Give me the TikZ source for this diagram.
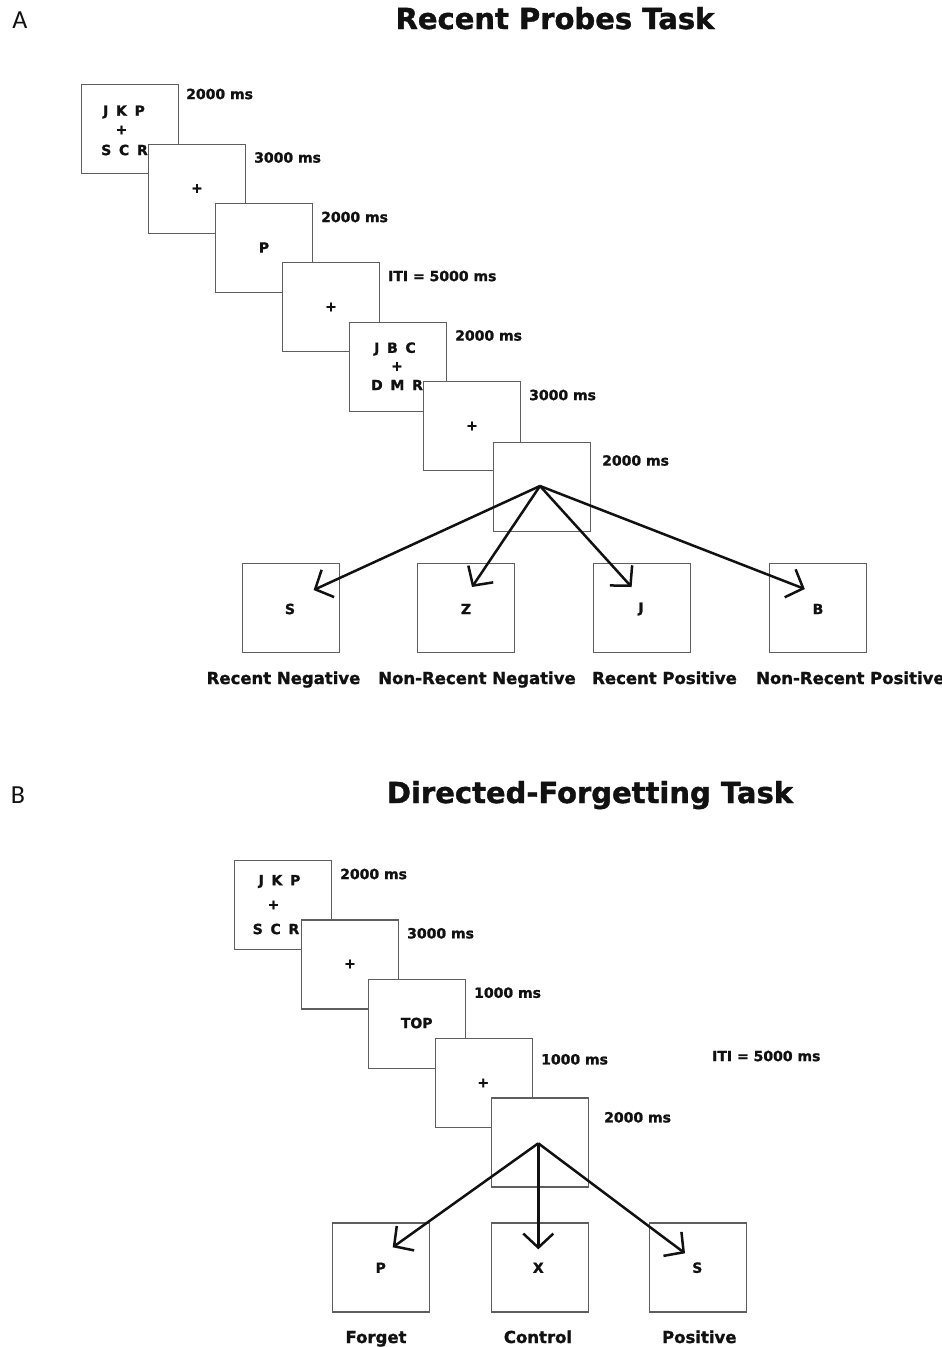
\documentclass[tikz,border=0pt]{standalone}
\usepackage{fontspec}
\setmainfont{DejaVu Sans}[BoldFeatures={FakeBold=1.3}]
\newfontfamily\lightfont{Carlito}
\usetikzlibrary{arrows.meta}
\definecolor{boxgray}{HTML}{5E5E5E}
\definecolor{ink}{HTML}{111111}
\newcommand{\gp}{\hspace{0.55em}}
\tikzset{
  box/.style={draw=boxgray, line width=1.2pt, fill=white, minimum width=97pt, minimum height=89pt, inner sep=0pt, anchor=north west},
  lbl/.style={font=\bfseries\fontsize{14}{16}\selectfont, inner sep=0pt, text=ink},
  tm/.style={lbl, anchor=west},
  cond/.style={font=\bfseries\fontsize{16.5}{18}\selectfont, inner sep=0pt, anchor=base, text=ink},
  ttl/.style={font=\bfseries\fontsize{29}{32}\selectfont, inner sep=0pt, anchor=base, text=ink},
  panel/.style={font=\lightfont\fontsize{26}{28}\selectfont, inner sep=0pt, text=ink},
  arr/.style={line width=2.5pt, draw=ink, -{Straight Barb[length=14pt,width=30pt]}}
}
\begin{document}
\begin{tikzpicture}[x=1pt,y=-1pt]
\useasboundingbox[fill=white] (0,0) rectangle (942,1347);

% ---------------- Panel A ----------------
\node[panel] (pA) at (20,20) {A};
\node[ttl] (tA) at (555,29) {Recent Probes Task};

\node[box] (a1) at (81,84) {};
\node[lbl] (a1t1) at (124,112) {J\gp K\gp P};
\node[lbl] (a1t2) at (121.5,130) {+};
\node[lbl] (a1t3) at (124.5,150) {S\gp C\gp R};
\node[tm] (a1m) at (186,94) {2000 ms};

\node[box] (a2) at (148,143.5) {};
\node[lbl] (a2t) at (197,188.5) {+};
\node[tm] (a2m) at (254,157.5) {3000 ms};

\node[box] (a3) at (215,203) {};
\node[lbl] (a3t) at (264,247.5) {P};
\node[tm] (a3m) at (321,217) {2000 ms};

\node[box] (a4) at (282,262) {};
\node[lbl] (a4t) at (331,307) {+};
\node[tm] (a4m) at (388,276) {ITI = 5000 ms};

\node[box] (a5) at (348.5,321.5) {};
\node[lbl] (a5t1) at (395,349) {J\gp B\gp C};
\node[lbl] (a5t2) at (397,366.5) {+};
\node[lbl] (a5t3) at (397,385) {D\gp M\gp R};
\node[tm] (a5m) at (455,335.5) {2000 ms};

\node[box] (a6) at (423,381) {};
\node[lbl] (a6t) at (472,426) {+};
\node[tm] (a6m) at (529,395) {3000 ms};

\node[box] (a7) at (493,442) {};
\node[tm] (a7m) at (602,460.5) {2000 ms};

\node[box] (r1) at (241.5,563) {};
\node[box] (r2) at (417,563) {};
\node[box] (r3) at (593,563) {};
\node[box] (r4) at (769,563) {};
\node[lbl] (r1t) at (290,609) {S};
\node[lbl] (r2t) at (466,609) {Z};
\node[lbl] (r3t) at (641,609) {J};
\node[lbl] (r4t) at (818,609) {B};

\coordinate (apA) at (540,486);
\coordinate (r1e) at (313.6,590);
\coordinate (r2e) at (472,587);
\coordinate (r3e) at (631.6,587);
\coordinate (r4e) at (804.8,589);
\draw[arr] (apA) -- (r1e);
\draw[arr] (apA) -- (r2e);
\draw[arr] (apA) -- (r3e);
\draw[arr] (apA) -- (r4e);

\node[cond] (r1l) at (283.5,684) {Recent Negative};
\node[cond] (r2l) at (477,684) {Non-Recent Negative};
\node[cond] (r3l) at (664.5,684) {Recent Positive};
\node[cond, anchor=base west] (r4l) at (756,684) {Non-Recent Positive};

% ---------------- Panel B ----------------
\node[panel] (pB) at (18,795) {B};
\node[ttl] (tB) at (590,803) {Directed-Forgetting Task};

\node[box] (b1) at (234,860) {};
\node[lbl] (b1t1) at (279.5,881.5) {J\gp K\gp P};
\node[lbl] (b1t2) at (273.5,905) {+};
\node[lbl] (b1t3) at (276,929) {S\gp C\gp R};
\node[tm] (b1m) at (340,874) {2000 ms};

\node[box] (b2) at (300.7,919.3) {};
\node[lbl] (b2t) at (350,964) {+};
\node[tm] (b2m) at (407,933.3) {3000 ms};

\node[box] (b3) at (367.7,978.7) {};
\node[lbl] (b3t) at (416.7,1023) {TOP};
\node[tm] (b3m) at (474,992.7) {1000 ms};

\node[box] (b4) at (434.7,1038) {};
\node[lbl] (b4t) at (483.3,1083) {+};
\node[tm] (b4m) at (541,1059.3) {1000 ms};

\node[box] (b5) at (490.5,1097.3) {};
\node[tm] (b5m) at (604,1117.3) {2000 ms};
\node[tm] (iti) at (712,1056) {ITI = 5000 ms};

\node[box] (s1) at (332,1222.3) {};
\node[box] (s2) at (490.7,1222.3) {};
\node[box] (s3) at (648.7,1222.3) {};
\node[lbl] (s1t) at (380.7,1267.7) {P};
\node[lbl] (s2t) at (538.3,1267.7) {X};
\node[lbl] (s3t) at (697.3,1267.7) {S};

\coordinate (apB) at (538.3,1143.3);
\coordinate (s1e) at (392.7,1247.3);
\coordinate (s2e) at (538.3,1249.3);
\coordinate (s3e) at (685,1253.3);
\draw[arr] (apB) -- (s1e);
\draw[arr] (apB) -- (s2e);
\draw[arr] (apB) -- (s3e);

\node[cond] (s1l) at (376,1343) {Forget};
\node[cond] (s2l) at (538,1343) {Control};
\node[cond] (s3l) at (699.3,1343) {Positive};
\end{tikzpicture}
\end{document}
